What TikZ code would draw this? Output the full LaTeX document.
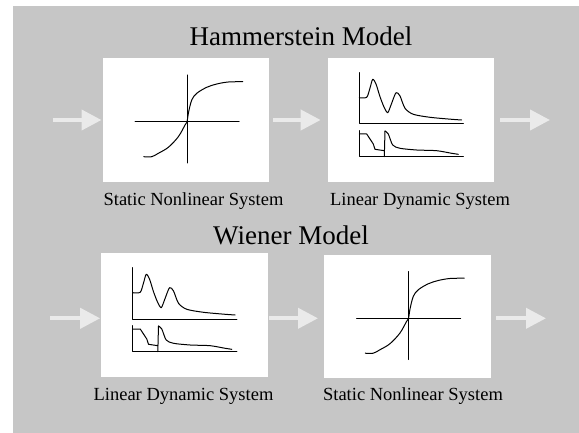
\documentclass[tikz,border=0pt]{standalone}
\usepackage{fontspec}
\setmainfont{Liberation Serif}
\usetikzlibrary{arrows.meta,calc}
\definecolor{bg}{RGB}{198,198,198}
\definecolor{arrowc}{RGB}{234,234,234}
\tikzset{
  box/.style={fill=white, draw=none, minimum width=166.3pt, minimum height=123.4pt, inner sep=0pt},
  title/.style={anchor=base, inner sep=0pt, font=\fontsize{27}{30}\selectfont},
  lbl/.style={anchor=base, inner sep=0pt, font=\fontsize{18.5}{21}\selectfont},
  flow/.style={draw=arrowc, line width=4pt, -{Triangle[length=20pt,width=20pt]}},
  graphline/.style={line width=1pt, black, line join=round, line cap=round},
  snl/.pic={
    \begin{scope}[shift={(1.2,2)}]
    \draw[graphline] (-52,0) -- (52,0);
    \draw[graphline] (0,-47) -- (0,41);
    \draw[graphline] plot[smooth, tension=0.55] coordinates {(-43.3,34.7) (-35.3,34.7) (-28.7,31.3) (-18.7,25.3) (-8.7,14.7) (-2,3) (0,0) (1.3,-8.7) (4.7,-22) (9.7,-28.7) (19.7,-34.7) (29.7,-38) (41.3,-40) (55.7,-40.3)};
    \end{scope}
  },
  ldyn/.pic={
    \draw[graphline] (-51.7,-47.3) -- (-51.7,4) -- (52.3,4);
    \draw[graphline] (-51.7,10.7) -- (-51.7,36.7) -- (52.3,36.7);
    \draw[graphline] plot[smooth, tension=0.45] coordinates {(-51.7,-22.3) (-44.3,-22.7) (-41,-32) (-38.3,-40.7) (-35,-36) (-31,-23.3) (-27,-13) (-23.3,-7.3) (-20,-15) (-15,-27.3) (-11,-24) (-6,-11.7) (2.3,-5.7) (19,-2.7) (40.7,-0.7) (50.7,0)};
    \draw[graphline] (-51.7,14) -- (-44.3,14) -- (-37.7,24) -- (-36,29.3) -- (-26.7,30.7);
    \draw[graphline] (-26.7,36.7) -- (-26,11);
    \draw[graphline] plot[smooth, tension=0.45] coordinates {(-26,11) (-22.7,14) (-18.3,25) (-11,28.3) (5.7,30) (25.7,30.7) (40.7,33.3) (47.3,34.3)};
  }
}
\begin{document}
\begin{tikzpicture}[x=1pt,y=-1pt]
\useasboundingbox (0,0) rectangle (579,433);
\fill[white] (0,0) rectangle (579,433);
\fill[bg] (13,6) rectangle (579,433);

% Hammerstein
\node[title] (htitle) at (301,46) {Hammerstein Model};
\node[box] (box1) at (185.85,120) {};
\node[box] (box2) at (411,120) {};
\pic at (box1.center) {snl};
\pic at (box2.center) {ldyn};
\node[lbl] (l1) at (193.5,206) {Static Nonlinear System};
\node[lbl] (l2) at (420,206) {Linear Dynamic System};
\coordinate (h0) at (52.7,120);
\coordinate (h1) at (550,120);
\draw[flow, shorten >=1pt] (h0) -- (h0 -| box1.west);
\draw[flow, shorten <=4pt, shorten >=7pt] (box1.east) -- (box2.west);
\draw[flow, shorten <=6pt] (box2.east) -- (h1);

% Wiener
\node[title] (wtitle) at (291,244) {Wiener Model};
\node[box] (box3) at (184.5,315) {};
\node[box] (box4) at (407.35,316.5) {};
\pic at (box3.center) {ldyn};
\pic at (box4.center) {snl};
\node[lbl] (l3) at (183.5,400) {Linear Dynamic System};
\node[lbl] (l4) at (413,400) {Static Nonlinear System};
\coordinate (w0) at (50,318.3);
\coordinate (w1) at (546,318.3);
\draw[flow, shorten >=1pt] (w0) -- (w0 -| box3.west);
\draw[flow, shorten <=1.6pt, shorten >=6pt] (w0 -| box3.east) -- (w0 -| box4.west);
\draw[flow, shorten <=5.3pt] (w0 -| box4.east) -- (w1);
\end{tikzpicture}
\end{document}
